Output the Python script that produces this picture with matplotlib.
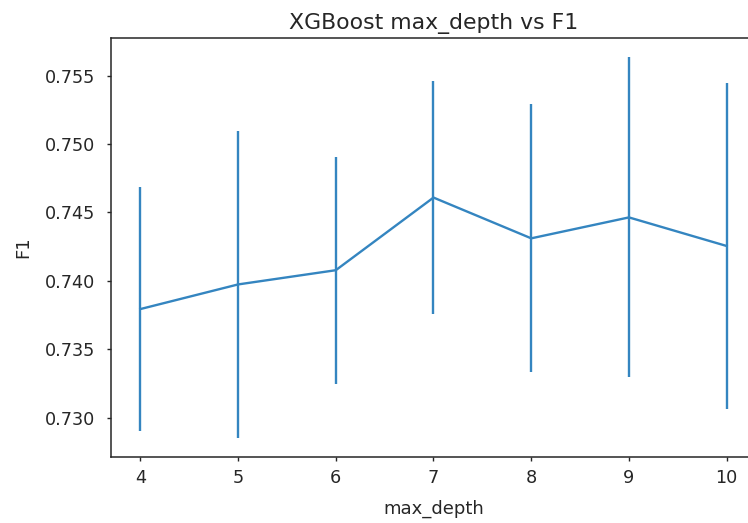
import matplotlib
matplotlib.use("Agg")
import matplotlib.pyplot as plt

max_depth = [4, 5, 6, 7, 8, 9, 10]
f1_mean = [0.73794, 0.73974, 0.74078, 0.74609, 0.74311, 0.74464, 0.74255]
f1_err = [0.0089, 0.0112, 0.0083, 0.0085, 0.0098, 0.0117, 0.0119]

plt.rcParams['font.family'] = ['DejaVu Sans']
fig = plt.figure(figsize=(7.48, 5.23), dpi=100)
ax = fig.add_axes([111/748, 1 - 456.7/523, (756-111)/748, (456.7-38.3)/523])

ax.errorbar(max_depth, f1_mean, yerr=f1_err, color='#3485c0', lw=1.7, elinewidth=1.7)

ax.set_title('XGBoost max_depth vs F1', fontsize=15.8, pad=7, color='#262626')
ax.set_xlabel('max_depth', fontsize=13, labelpad=9, color='#262626')
ax.set_ylabel('F1', fontsize=13, labelpad=9, color='#262626')
ax.tick_params(axis='both', labelsize=12.7, length=3.2, width=1, colors='#262626')
ax.tick_params(axis='y', pad=8.5)
ax.tick_params(axis='x', pad=6)
for s in ax.spines.values():
    s.set_linewidth(1.1)
    s.set_color('#262626')

fig.savefig('out.png', dpi=100)
